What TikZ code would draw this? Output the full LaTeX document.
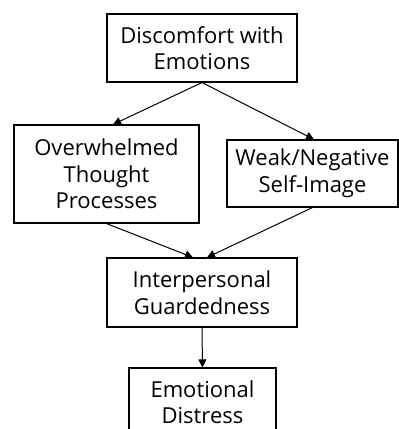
\documentclass[tikz,border=0pt]{standalone}
\usepackage{fontspec}
\setmainfont{Open Sans}
\usetikzlibrary{arrows.meta}
\begin{document}
\begin{tikzpicture}[x=1pt,y=-1pt,
  stepbox/.style={draw=black, line width=1.1pt, rectangle, inner sep=0pt,
    align=center, font=\fontsize{22}{26.5}\selectfont},
  flow/.style={draw=black, line width=1pt, -{Triangle[length=8pt,width=8pt]}}]
  \useasboundingbox (0,0) rectangle (399,429);
  \node[stepbox, minimum width=190pt, minimum height=68pt] (disc) at (202,48)
    {Discomfort with\\Emotions};
  \node[stepbox, minimum width=185pt, minimum height=98pt] (over) at (106.5,174)
    {Overwhelmed\\Thought\\Processes};
  \node[stepbox, minimum width=171pt, minimum height=67pt] (weak) at (312.5,173.5)
    {Weak/Negative\\Self-Image};
  \node[stepbox, minimum width=190pt, minimum height=69pt] (guard) at (202,292.5)
    {Interpersonal\\Guardedness};
  \node[stepbox, minimum width=147pt, minimum height=68pt] (dist) at (202.5,402)
    {Emotional\\Distress};
  \draw[flow] (disc.south) -- ([xshift=6.5pt]over.north);
  \draw[flow] (disc.south) -- ([xshift=1.5pt]weak.north);
  \draw[flow] (over.south) -- ([xshift=-9pt]guard.north);
  \draw[flow] (weak.south) -- ([xshift=5pt]guard.north);
  \draw[flow] (guard.south) -- (dist.north);
\end{tikzpicture}
\end{document}
